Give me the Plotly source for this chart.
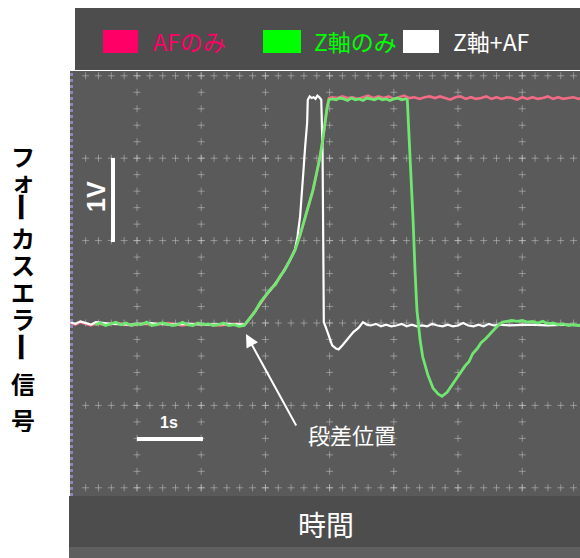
import plotly.graph_objects as go

# ---------------- data (time in s, signal in V) ----------------
af_t = [-0.04, 0.04, 0.12, 0.20, 0.28, 0.36, 0.50, 0.70, 0.90, 1.10, 1.30, 1.50, 1.70, 1.90, 2.10, 2.30, 2.50, 2.68,
        2.76, 2.84, 2.92, 3.00, 3.08, 3.16, 3.23, 3.30, 3.38, 3.46, 3.54, 3.62, 3.68, 3.74, 3.80, 3.85, 3.89, 3.93, 3.96, 3.99,
        4.04, 4.12, 4.20, 4.28, 4.36, 4.44, 4.52, 4.60, 4.68, 4.76,
        4.84, 4.92, 5.00, 5.08, 5.16, 5.24, 5.32, 5.40, 5.48, 5.56,
        5.64, 5.72, 5.80, 5.88, 5.96, 6.04, 6.12, 6.20, 6.28, 6.36,
        6.44, 6.52, 6.60, 6.68, 6.76, 6.84, 6.92, 7.00, 7.08, 7.16,
        7.24, 7.32, 7.40, 7.48, 7.56, 7.64, 7.72, 7.80, 7.88, 7.92]
af_v = [0.00, -0.02, 0.01, -0.01, -0.03, -0.01, -0.02, 0.00, -0.03, -0.01, -0.02, 0.00, -0.03, -0.01, -0.02, -0.03, -0.01, -0.02,
        0.06, 0.15, 0.24, 0.33, 0.41, 0.48, 0.56, 0.65, 0.76, 0.89, 1.06, 1.29, 1.44, 1.61, 1.82, 2.01, 2.20, 2.43, 2.62, 2.73,
        2.74, 2.73, 2.75, 2.73, 2.74, 2.72, 2.74, 2.76, 2.73, 2.75,
        2.73, 2.75, 2.72, 2.74, 2.76, 2.73, 2.74, 2.72, 2.74, 2.75,
        2.73, 2.75, 2.73, 2.71, 2.74, 2.75, 2.72, 2.74, 2.72, 2.73,
        2.75, 2.72, 2.74, 2.72, 2.74, 2.73, 2.71, 2.74, 2.72, 2.74,
        2.72, 2.73, 2.75, 2.72, 2.74, 2.72, 2.73, 2.74, 2.72, 2.73]

zaf_t = [-0.04, 0.04, 0.12, 0.20, 0.28, 0.36, 0.60, 0.90, 1.20, 1.50, 1.80, 2.10, 2.40, 2.68,
         2.76, 2.84, 2.92, 3.00, 3.08, 3.16, 3.23, 3.30, 3.38, 3.46, 3.50, 3.54, 3.57, 3.59, 3.62, 3.65, 3.66,
         3.69, 3.72, 3.75, 3.78, 3.81, 3.84, 3.87,
         3.89, 3.90, 3.91, 3.94, 3.98, 4.04, 4.10, 4.14, 4.20, 4.27, 4.37, 4.45, 4.52, 4.58,
         4.64, 4.72, 4.80, 4.88, 4.96, 5.04, 5.12, 5.20, 5.28, 5.36,
         5.44, 5.52, 5.60, 5.68, 5.76, 5.84, 5.92, 6.00, 6.08, 6.16,
         6.24, 6.32, 6.40, 6.48, 6.56, 6.64, 6.80, 7.10, 7.40, 7.70, 7.92]
zaf_v = [0.01, -0.01, 0.02, 0.00, -0.02, 0.01, -0.01, -0.02, 0.00, -0.02, -0.01, -0.02, -0.01, -0.02,
         0.06, 0.14, 0.24, 0.33, 0.40, 0.48, 0.56, 0.65, 0.76, 0.89, 1.05, 1.29, 1.55, 1.82, 2.15, 2.43, 2.71,
         2.75, 2.73, 2.74, 2.72, 2.76, 2.74, 2.71,
         2.10, 0.89, 0.01, -0.05, -0.15, -0.27, -0.31, -0.32, -0.27, -0.20, -0.11, -0.06, 0.01, -0.02,
         -0.03, -0.01, -0.04, -0.02, -0.04, -0.03, -0.01, -0.04, -0.02, -0.04,
         -0.03, -0.04, -0.01, -0.03, -0.04, -0.02, -0.04, -0.03, 0.00, -0.03,
         -0.04, -0.02, -0.04, -0.01, -0.03, -0.02, -0.03, -0.02, -0.03, -0.02, -0.03]

z_t = [0.35, 0.43, 0.51, 0.59, 0.67, 0.75, 0.83, 0.91, 0.99, 1.07,
       1.15, 1.23, 1.31, 1.39, 1.47, 1.55, 1.63, 1.71, 1.79, 1.87,
       1.95, 2.03, 2.11, 2.19, 2.27, 2.35, 2.43, 2.51, 2.59, 2.67,
       2.72, 2.78, 2.84, 2.92, 3.00, 3.08, 3.16, 3.23, 3.30, 3.38, 3.46, 3.54, 3.62, 3.68, 3.74, 3.80, 3.85, 3.89, 3.93, 3.96, 3.99,
       4.04, 4.10, 4.16, 4.22, 4.28, 4.34, 4.40, 4.46, 4.52, 4.58,
       4.64, 4.70, 4.76, 4.82, 4.88, 4.94, 5.00, 5.06, 5.12, 5.18,
       5.21, 5.25, 5.30, 5.33, 5.36, 5.41, 5.45, 5.53, 5.61, 5.69, 5.75, 5.83, 5.91,
       5.98, 6.05, 6.11, 6.17, 6.23, 6.30, 6.36, 6.43, 6.50, 6.56, 6.61, 6.69,
       6.76, 6.84, 6.92, 7.00, 7.08, 7.16, 7.24, 7.32, 7.40, 7.48, 7.56, 7.64, 7.72, 7.80, 7.88, 7.92]
z_v = [-0.02, 0.00, -0.03, -0.01, 0.01, -0.02, 0.00, -0.03, -0.01, -0.02,
       0.01, -0.03, -0.02, 0.00, -0.01, -0.03, -0.02, 0.01, -0.02, -0.03,
       0.00, -0.02, -0.01, -0.03, -0.02, 0.00, -0.03, -0.02, -0.04, -0.03,
       0.02, 0.08, 0.14, 0.25, 0.33, 0.41, 0.47, 0.57, 0.64, 0.77, 0.88, 1.07, 1.28, 1.45, 1.61, 1.83, 2.01, 2.21, 2.43, 2.61, 2.71,
       2.72, 2.71, 2.73, 2.72, 2.70, 2.73, 2.71, 2.72, 2.70, 2.73,
       2.72, 2.71, 2.73, 2.71, 2.72, 2.70, 2.72, 2.73, 2.71, 2.72,
       2.71, 2.10, 1.25, 0.64, 0.16, -0.21, -0.41, -0.63, -0.79, -0.86, -0.89, -0.84, -0.75,
       -0.67, -0.58, -0.52, -0.47, -0.37, -0.31, -0.24, -0.19, -0.13, -0.08, -0.04, 0.01,
       0.02, 0.03, 0.02, 0.03, 0.01, 0.02, 0.00, 0.02, -0.01, 0.00, -0.02, -0.01, -0.03, -0.02, -0.03, -0.02]

series_names = ["AFのみ", "Z軸のみ", "Z軸+AF"]
legend_colors = ["#ff0066", "#00ff00", "#ffffff"]
trace_colors = ["#f26b84", "#6fe66f", "#ffffff"]

grid_x = [1, 2, 3, 4, 5, 6, 7]
grid_y = [-2, -1, 0, 1, 2, 3]

y_title = "フォーカスエラー信号"

# ---------------- geometry helpers (page pixels -> paper) ----------------
# page margin is removed by the post script, so the figure fills the window
OFF = 0
W, H = 580, 558
def px(x):
    return (x - OFF) / W
def py(y):
    return (H - (y - OFF)) / H

fig = go.Figure()

# oscilloscope graticule (minor ticks every 1/5 division)
gx, gy = [], []
for yv in grid_y:
    for k in range(1, 40):
        gx.append(k * 0.2)
        gy.append(yv)
for xv in grid_x:
    for k in range(0, 26):
        gx.append(xv)
        gy.append(-2 + k * 0.2)
fig.add_trace(go.Scatter(x=gx, y=gy, mode="markers", hoverinfo="skip", showlegend=False,
                         marker=dict(symbol="cross-thin", size=5,
                                     line=dict(color="rgba(205,205,205,0.5)", width=1))))

fig.add_trace(go.Scatter(x=af_t, y=af_v, mode="lines", name=series_names[0],
                         line=dict(color=trace_colors[0], width=2.6)))
fig.add_trace(go.Scatter(x=zaf_t, y=zaf_v, mode="lines", name=series_names[2],
                         line=dict(color=trace_colors[2], width=2.2)))
fig.add_trace(go.Scatter(x=z_t, y=z_v, mode="lines", name=series_names[1],
                         line=dict(color=trace_colors[1], width=2.8)))

shapes = [
    # legend band
    dict(type="rect", xref="paper", yref="paper", x0=px(75), x1=1, y0=py(70), y1=py(8),
         fillcolor="#4d4d4d", line=dict(width=0), layer="below"),
    # bottom label band
    dict(type="rect", xref="paper", yref="paper", x0=px(69), x1=1, y0=py(547), y1=py(496),
         fillcolor="#4d4d4d", line=dict(width=0), layer="below"),
    dict(type="rect", xref="paper", yref="paper", x0=px(69), x1=1, y0=0, y1=py(547),
         fillcolor="#5f5f5f", line=dict(width=0), layer="below"),
    # left border of screen
    dict(type="line", xref="paper", yref="paper", x0=px(71.5), x1=px(71.5), y0=py(496), y1=py(71),
         line=dict(color="#8b87b8", width=3, dash="dot")),
    # 1V scale bar
    dict(type="line", xref="paper", yref="paper", x0=px(113), x1=px(113), y0=py(242), y1=py(158),
         line=dict(color="#ffffff", width=4)),
    # 1s scale bar
    dict(type="line", xref="paper", yref="paper", x0=px(137), x1=px(203), y0=py(439), y1=py(439),
         line=dict(color="#ffffff", width=4)),
]
# legend swatches
for x0, x1, c in [(103, 138, legend_colors[0]), (263, 301, legend_colors[1]), (403, 439, legend_colors[2])]:
    shapes.append(dict(type="rect", xref="paper", yref="paper", x0=px(x0), x1=px(x1),
                       y0=py(53), y1=py(30), fillcolor=c, line=dict(width=0)))

jp = "Noto Sans CJK JP"
annotations = [
    dict(xref="paper", yref="paper", x=px(151), y=py(41), xanchor="left", yanchor="middle",
         text=series_names[0], showarrow=False, font=dict(family=jp, size=23, color=legend_colors[0])),
    dict(xref="paper", yref="paper", x=px(312), y=py(41), xanchor="left", yanchor="middle",
         text=series_names[1], showarrow=False, font=dict(family=jp, size=23, color=legend_colors[1])),
    dict(xref="paper", yref="paper", x=px(451), y=py(41), xanchor="left", yanchor="middle",
         text=series_names[2], showarrow=False, font=dict(family=jp, size=23, color=legend_colors[2])),
    dict(xref="paper", yref="paper", x=px(326), y=py(524), xanchor="center", yanchor="middle",
         text="時間", showarrow=False, font=dict(family=jp, size=28, color="#ffffff")),
    dict(xref="paper", yref="paper", x=px(96), y=py(197), xanchor="center", yanchor="middle",
         text="1V", textangle=-90, showarrow=False,
         font=dict(family="Liberation Sans", size=25, color="#ffffff", weight="bold")),
    dict(xref="paper", yref="paper", x=px(169), y=py(422), xanchor="center", yanchor="middle",
         text="1s", showarrow=False,
         font=dict(family="Liberation Sans", size=16, color="#ffffff", weight="bold")),
    dict(xref="paper", yref="paper", x=px(352), y=py(434), xanchor="center", yanchor="middle",
         text="段差位置", showarrow=False, font=dict(family=jp, size=22, color="#ffffff")),
    dict(xref="paper", yref="paper", x=px(246), y=py(334), text="", showarrow=True,
         ax=51, ay=93, arrowhead=2, arrowsize=1.3, arrowwidth=2, arrowcolor="#ffffff", standoff=0),
]

# vertical (tategaki) axis title: one character per annotation
char_centers = [155, 180, 207, 237, 264, 291, 318, 347, 383, 419]
for ch, cy in zip(y_title, char_centers):
    ann = dict(xref="paper", yref="paper", x=px(23), y=py(cy), xanchor="center", yanchor="middle",
               text=ch, showarrow=False, height=26,
               font=dict(family=jp, size=24, color="#000000", weight="bold"))
    if ch == "ー":
        ann["textangle"] = 90
        ann["font"] = dict(family=jp, size=30, color="#000000", weight="bold")
    annotations.append(ann)

fig.update_layout(
    width=W, height=H,
    margin=dict(l=0, r=0, t=0, b=0),
    paper_bgcolor="#ffffff",
    plot_bgcolor="#5a5a5a",
    showlegend=False,
    shapes=shapes,
    annotations=annotations,
    xaxis=dict(domain=[px(70), 1], range=[-0.0436, 7.90], showgrid=False, zeroline=False,
               showticklabels=False, ticks="", fixedrange=True),
    yaxis=dict(domain=[py(496), py(71)], range=[-2.0995, 3.0583], showgrid=False, zeroline=False,
               showticklabels=False, ticks="", fixedrange=True),
)

fig.write_html(
    "out.html",
    config={"displayModeBar": False},
    post_script="document.documentElement.style.overflow='hidden';"
                "document.body.style.overflow='hidden';document.body.style.margin='0';",
)
